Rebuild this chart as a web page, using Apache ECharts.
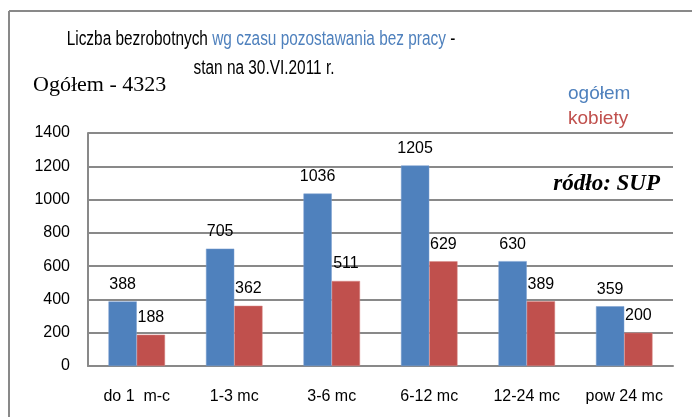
<!DOCTYPE html>
<html>
<head>
<meta charset="utf-8">
<script src="https://cdn.jsdelivr.net/npm/echarts@6/dist/echarts.min.js"></script>
<style>
  html, body { margin: 0; padding: 0; background: #fff; }
  #main { width: 692px; height: 417px; }
</style>
</head>
<body>
<div id="main"></div>
<script>
// dane
var categories = ["do 1  m-c", "1-3 mc", "3-6 mc", "6-12 mc", "12-24 mc", "pow 24 mc"];
var ogolem = [388, 705, 1036, 1205, 630, 359];
var kobiety = [188, 362, 511, 629, 389, 200];
var yTicks = [0, 200, 400, 600, 800, 1000, 1200, 1400];

var sans = "'Liberation Sans', Arial, sans-serif";
var serif = "'Liberation Serif', 'Times New Roman', serif";
var gridColor = "#898989";

var myChart = echarts.init(document.getElementById("main"));
myChart.setOption({
  animation: false,
  backgroundColor: "#fff",
  grid: { left: 88, right: 19, top: 133, bottom: 51 },
  legend: {
    orient: "vertical",
    left: 557,
    top: 79,
    itemWidth: 0,
    itemHeight: 0,
    itemGap: 6,
    selectedMode: false,
    textStyle: { fontFamily: sans, fontSize: 19 },
    data: [
      { name: "ogółem", icon: "rect", textStyle: { color: "#4F81BD" } },
      { name: "kobiety", icon: "rect", textStyle: { color: "#C0504D" } },
    ],
  },
  xAxis: {
    type: "category",
    data: categories,
    axisLine: { lineStyle: { color: gridColor, width: 2 } },
    axisTick: { show: false },
    axisLabel: { interval: 0, color: "#000", fontFamily: sans, fontSize: 16, margin: 23 },
  },
  yAxis: {
    type: "value",
    min: yTicks[0],
    max: yTicks[yTicks.length - 1],
    interval: 200,
    axisLine: { show: true, lineStyle: { color: gridColor, width: 2 } },
    axisTick: { show: false },
    axisLabel: {
      color: "#000",
      fontFamily: sans,
      fontSize: 16,
      margin: 18,
      formatter: function (v) { return String(v); },
    },
    splitLine: { lineStyle: { color: gridColor, width: 2 } },
  },
  series: [
    {
      name: "ogółem",
      type: "bar",
      data: ogolem,
      barGap: "0%",
      barCategoryGap: "42%",
      itemStyle: { color: "#4F81BD", borderColor: "#7a9fd0", borderWidth: 0.5 },
      label: { show: true, position: "top", distance: 9, color: "#000", fontFamily: sans, fontSize: 16 },
    },
    {
      name: "kobiety",
      type: "bar",
      data: kobiety,
      itemStyle: { color: "#C0504D", borderColor: "#d98a88", borderWidth: 0.5 },
      label: { show: true, position: "top", distance: 9, color: "#000", fontFamily: sans, fontSize: 16 },
    },
  ],
  graphic: [
    // ramka
    { type: "line", shape: { x1: 9, y1: 11, x2: 692, y2: 11 }, style: { stroke: gridColor, lineWidth: 2 } },
    { type: "line", shape: { x1: 9, y1: 11, x2: 9, y2: 417 }, style: { stroke: gridColor, lineWidth: 2 } },
    {
      type: "text",
      x: 261,
      y: 49,
      scaleX: 0.77,
      style: {
        text: "{a|Liczba bezrobotnych }{b|wg czasu pozostawania bez pracy}{a| -}",
        align: "center",
        verticalAlign: "bottom",
        rich: {
          a: { fontFamily: sans, fontSize: 20, fill: "#000" },
          b: { fontFamily: sans, fontSize: 20, fill: "#4F81BD" },
        },
      },
    },
    {
      type: "text",
      x: 264,
      y: 78,
      scaleX: 0.77,
      style: {
        text: "stan na 30.VI.2011 r.",
        align: "center",
        verticalAlign: "bottom",
        font: "20px " + sans,
        fill: "#000",
      },
    },
    {
      type: "text",
      x: 33,
      y: 96,
      style: {
        text: "Ogółem - 4323",
        align: "left",
        verticalAlign: "bottom",
        font: "22px " + serif,
        fill: "#000",
      },
    },
    {
      type: "text",
      x: 660,
      y: 196,
      style: {
        text: "ródło: SUP",
        align: "right",
        verticalAlign: "bottom",
        font: "italic bold 23px " + serif,
        fill: "#000",
      },
    },
  ],
});
</script>
</body>
</html>
